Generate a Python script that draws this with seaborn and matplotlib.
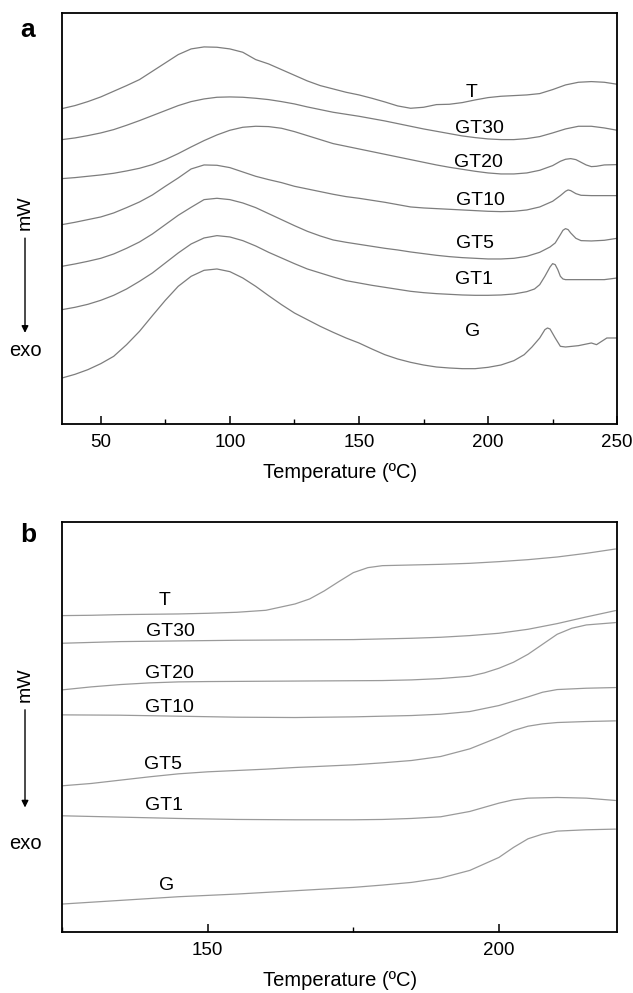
import numpy as np
import pandas as pd
import matplotlib
matplotlib.use("Agg")
import matplotlib.pyplot as plt
import seaborn as sns
from matplotlib.ticker import MultipleLocator

sns.set_style("ticks")
plt.rcParams['font.family'] = ['Liberation Sans', 'DejaVu Sans']
plt.rcParams['xtick.direction'] = 'in'
plt.rcParams['text.color'] = 'black'
plt.rcParams['xtick.color'] = 'black'
plt.rcParams['axes.labelcolor'] = 'black'

samples = ["T", "GT30", "GT20", "GT10", "GT5", "GT1", "G"]

# ---- panel a: DSC curves, 35-250 C (arbitrary heat-flow units)
step5 = list(range(35, 255, 5))

a_T_temp = step5
a_T_val = [94.6, 95.5, 96.7, 98.1, 99.8, 101.5, 103.3, 105.8, 108.3, 110.8, 112.5,
           113.1, 113.0, 112.5, 111.5, 109.3, 108.0, 106.3, 104.6, 102.9, 101.5, 100.5,
           99.5, 98.7, 97.7, 96.6, 95.4, 94.7, 95.0, 95.8, 95.9, 96.4, 97.2, 97.9,
           98.3, 98.5, 98.7, 99.1, 100.3, 101.7, 102.5, 102.7, 102.5, 101.9]

a_GT30_temp = step5
a_GT30_val = [85.3, 85.8, 86.5, 87.3, 88.3, 89.6, 91.0, 92.5, 94.0, 95.5, 96.7,
              97.5, 98.0, 98.1, 98.0, 97.7, 97.3, 96.7, 96.0, 95.1, 94.3, 93.5,
              92.9, 92.3, 91.6, 90.9, 90.1, 89.3, 88.5, 87.8, 87.1, 86.4, 85.9, 85.5,
              85.3, 85.3, 85.6, 86.2, 87.3, 88.5, 89.3, 89.3, 88.8, 88.1]

a_GT20_temp = list(range(35, 230, 5)) + [228, 230, 232, 234, 236, 238, 240, 242, 245, 250]
a_GT20_val = [73.6, 73.9, 74.3, 74.7, 75.2, 75.9, 76.7, 77.8, 79.3, 81.1, 83.1,
              85.0, 86.7, 88.1, 89.0, 89.3, 89.2, 88.7, 87.7, 86.5, 85.3, 84.1,
              83.3, 82.5, 81.7, 80.9, 80.1, 79.3, 78.5, 77.7, 77.0, 76.4, 75.8, 75.3,
              75.0, 75.0, 75.3, 76.1, 77.5,
              78.8, 79.4, 79.6, 79.3, 78.5, 77.7, 77.2, 77.3, 77.7, 77.8]

a_GT10_temp = list(range(35, 230, 5)) + [228, 230, 231, 232, 234, 236, 240, 245, 250]
a_GT10_val = [59.8, 60.5, 61.3, 62.1, 63.3, 64.9, 66.6, 68.7, 71.3, 73.8, 76.5,
              77.7, 77.6, 76.9, 75.6, 74.3, 73.3, 72.4, 71.3, 70.5, 69.7, 68.9,
              68.2, 67.7, 67.1, 66.5, 65.8, 65.1, 64.8, 64.6, 64.4, 64.2, 64.0, 63.8,
              63.7, 63.8, 64.2, 65.1, 66.8,
              68.5, 69.8, 70.2, 70.0, 69.1, 68.6, 68.5, 68.5, 68.5]

a_GT5_temp = list(range(35, 225, 5)) + [224, 226, 228, 229, 230, 231, 232, 234, 236, 240, 245, 250]
a_GT5_val = [47.3, 48.0, 48.8, 49.7, 51.0, 52.7, 54.6, 57.0, 59.8, 62.6, 65.0,
             67.3, 67.7, 67.3, 66.3, 64.9, 63.1, 61.3, 59.5, 57.8, 56.4, 55.2,
             54.5, 53.9, 53.3, 52.7, 52.2, 51.6, 51.1, 50.6, 50.2, 49.9, 49.7, 49.5,
             49.5, 49.7, 50.3, 51.5,
             53.1, 54.3, 56.8, 58.1, 58.6, 58.3, 57.3, 55.7, 55.0, 54.9, 55.1, 55.7]

a_GT1_temp = list(range(35, 220, 5)) + [218, 220, 222, 224, 225, 226, 227, 228, 229, 230, 235, 240, 245, 250]
a_GT1_val = [34.3, 35.0, 35.9, 37.1, 38.6, 40.5, 42.8, 45.3, 48.3, 51.3, 54.0,
             55.8, 56.5, 56.1, 55.0, 53.4, 51.5, 49.8, 48.1, 46.5, 45.3, 44.1,
             43.0, 42.3, 41.6, 41.0, 40.4, 39.8, 39.4, 39.1, 38.9, 38.7, 38.6, 38.6,
             38.7, 39.0, 39.7,
             40.5, 41.8, 44.3, 47.1, 48.1, 47.8, 46.3, 44.3, 43.5, 43.3, 43.3, 43.3, 43.3, 43.8]

a_G_temp = list(range(35, 215, 5)) + [214, 217, 220, 222, 223, 224, 226, 228, 230, 235, 240, 242, 244, 246, 250]
a_G_val = [13.8, 14.9, 16.3, 18.1, 20.3, 23.8, 27.8, 32.5, 37.1, 41.3, 44.3,
           46.1, 46.5, 45.7, 43.8, 41.3, 38.5, 35.8, 33.3, 31.3, 29.3, 27.5,
           25.8, 24.3, 22.5, 20.8, 19.5, 18.5, 17.7, 17.1, 16.8, 16.6, 16.6, 17.0,
           17.7, 19.0,
           20.8, 23.1, 25.8, 28.3, 28.8, 28.5, 25.8, 23.3, 23.1, 23.5, 24.3, 23.8, 24.8, 25.8, 25.8]

# ---- panel b: zoom on 125-220 C
b_T_temp = [125, 130, 135, 140, 145, 150, 155, 160, 165, 167.5, 170, 172.5, 175, 177.5,
            180, 185, 190, 195, 200, 205, 210, 215, 220]
b_T_val = [95.0, 95.1, 95.3, 95.4, 95.5, 95.7, 96.0, 96.6, 98.5, 100.0, 102.4, 105.2,
           107.9, 109.4, 110.0, 110.2, 110.4, 110.7, 111.2, 111.8, 112.6, 113.7, 115.0]

b_GT30_temp = [125, 135, 145, 155, 165, 175, 180, 185, 190, 195, 200, 205, 210, 215, 220]
b_GT30_val = [86.7, 87.2, 87.4, 87.6, 87.7, 87.8, 88.0, 88.2, 88.5, 89.0, 89.7, 90.9,
              92.6, 94.6, 96.5]

b_GT20_temp = [125, 130, 135, 140, 145, 150, 160, 170, 180, 185, 190, 195, 197.5, 200,
               202.5, 205, 207.5, 210, 212.5, 215, 220]
b_GT20_val = [72.7, 73.6, 74.3, 74.8, 75.1, 75.2, 75.3, 75.4, 75.5, 75.7, 76.1, 76.8,
              77.8, 79.2, 81.0, 83.4, 86.4, 89.4, 91.2, 92.2, 92.9]

b_GT10_temp = [125, 135, 145, 155, 165, 175, 185, 190, 195, 200, 205, 207.5, 210, 215, 220]
b_GT10_val = [65.2, 65.1, 64.8, 64.5, 64.4, 64.6, 65.0, 65.4, 66.2, 68.0, 70.6, 72.0,
              72.8, 73.2, 73.4]

b_GT5_temp = [125, 130, 135, 140, 145, 150, 155, 160, 165, 170, 175, 180, 185, 190, 195,
              200, 202.5, 205, 207.5, 210, 215, 220]
b_GT5_val = [43.9, 44.6, 45.6, 46.6, 47.5, 48.1, 48.5, 48.9, 49.4, 49.8, 50.2, 50.8,
             51.5, 52.7, 55.0, 58.5, 60.5, 61.8, 62.5, 62.9, 63.2, 63.4]

b_GT1_temp = [125, 135, 145, 155, 165, 175, 180, 185, 190, 195, 200, 202.5, 205, 210, 215, 220]
b_GT1_val = [34.9, 34.5, 34.1, 33.8, 33.7, 33.7, 33.8, 34.1, 34.6, 36.2, 38.7, 39.7,
             40.2, 40.4, 40.2, 39.5]

b_G_temp = [125, 135, 145, 155, 165, 175, 180, 185, 190, 195, 200, 202.5, 205, 207.5,
            210, 215, 220]
b_G_val = [8.4, 9.5, 10.6, 11.4, 12.4, 13.4, 14.1, 14.9, 16.2, 18.5, 22.4, 25.4, 28.0,
           29.4, 30.3, 30.7, 30.9]

curves_a = {"T": (a_T_temp, a_T_val), "GT30": (a_GT30_temp, a_GT30_val),
            "GT20": (a_GT20_temp, a_GT20_val), "GT10": (a_GT10_temp, a_GT10_val),
            "GT5": (a_GT5_temp, a_GT5_val), "GT1": (a_GT1_temp, a_GT1_val),
            "G": (a_G_temp, a_G_val)}
curves_b = {"T": (b_T_temp, b_T_val), "GT30": (b_GT30_temp, b_GT30_val),
            "GT20": (b_GT20_temp, b_GT20_val), "GT10": (b_GT10_temp, b_GT10_val),
            "GT5": (b_GT5_temp, b_GT5_val), "GT1": (b_GT1_temp, b_GT1_val),
            "G": (b_G_temp, b_G_val)}


def to_long(curves):
    rows = []
    for name, (t, v) in curves.items():
        rows.append(pd.DataFrame({"temp": t, "signal": v, "sample": name}))
    return pd.concat(rows, ignore_index=True)


df_a = to_long(curves_a)
df_b = to_long(curves_b)

# label anchors (temperature, signal) for the curve names
labels_a = {"T": (193.5, 99.3), "GT30": (196.7, 88.6), "GT20": (196.4, 78.3),
            "GT10": (197.0, 67.1), "GT5": (194.8, 54.0), "GT1": (194.4, 43.3),
            "G": (193.9, 27.8)}
labels_b = {"T": (142.6, 99.4), "GT30": (143.6, 90.2), "GT20": (143.5, 77.7),
            "GT10": (143.5, 67.4), "GT5": (142.4, 50.2), "GT1": (142.5, 37.9),
            "G": (142.9, 13.9)}

fig = plt.figure(figsize=(6.33, 9.93), dpi=100)
ax_a = fig.add_axes([0.098, 0.573, 0.877, 0.414])
ax_b = fig.add_axes([0.098, 0.0614, 0.877, 0.4129])

panels = [(ax_a, df_a, labels_a, "#7d7d7d", (35, 250), (0, 123.3), 50, 25, "a", 0.970),
          (ax_b, df_b, labels_b, "#9a9a9a", (125, 220.3), (0, 123.1), 50, 25, "b", 0.461)]

for ax, df, labs, col, xlim, ylim, major, minor, letter, ly in panels:
    sns.lineplot(data=df, x="temp", y="signal", units="sample", estimator=None,
                 sort=True, color=col, linewidth=0.9, ax=ax, legend=False)
    for name, (tx, ty) in labs.items():
        ax.text(tx, ty, name, fontsize=14, ha="center", va="center", color="black")
    ax.set_xlim(*xlim)
    ax.set_ylim(*ylim)
    ax.xaxis.set_major_locator(MultipleLocator(major))
    ax.xaxis.set_minor_locator(MultipleLocator(minor))
    ax.tick_params(axis="x", which="major", length=6, width=1.1, labelsize=13.5, pad=7,
                   colors="black")
    ax.tick_params(axis="x", which="minor", length=3.5, width=1.0)
    ax.set_yticks([])
    ax.set_ylabel("")
    ax.set_xlabel("Temperature (ºC)", fontsize=14.5, labelpad=9)
    for s in ax.spines.values():
        s.set_visible(True)
        s.set_linewidth(1.3)
        s.set_color("black")
    fig.text(0.044, ly, letter, fontsize=19, fontweight="bold", ha="center", va="center")

# mW -> exo direction markers
for y_mw, y0, y1, y_exo in [(0.7855, 0.763, 0.662, 0.6475), (0.3102, 0.288, 0.184, 0.151)]:
    fig.text(0.0395, y_mw, "mW", rotation=90, fontsize=14, ha="center", va="center")
    fig.patches.append(matplotlib.patches.FancyArrowPatch(
        (0.0395, y0), (0.0395, y1), transform=fig.transFigure, arrowstyle="-|>",
        mutation_scale=10, linewidth=1.0, color="black"))
    fig.text(0.0395, y_exo, "exo", fontsize=14.5, ha="center", va="center")

fig.savefig("out.png", dpi=100)
